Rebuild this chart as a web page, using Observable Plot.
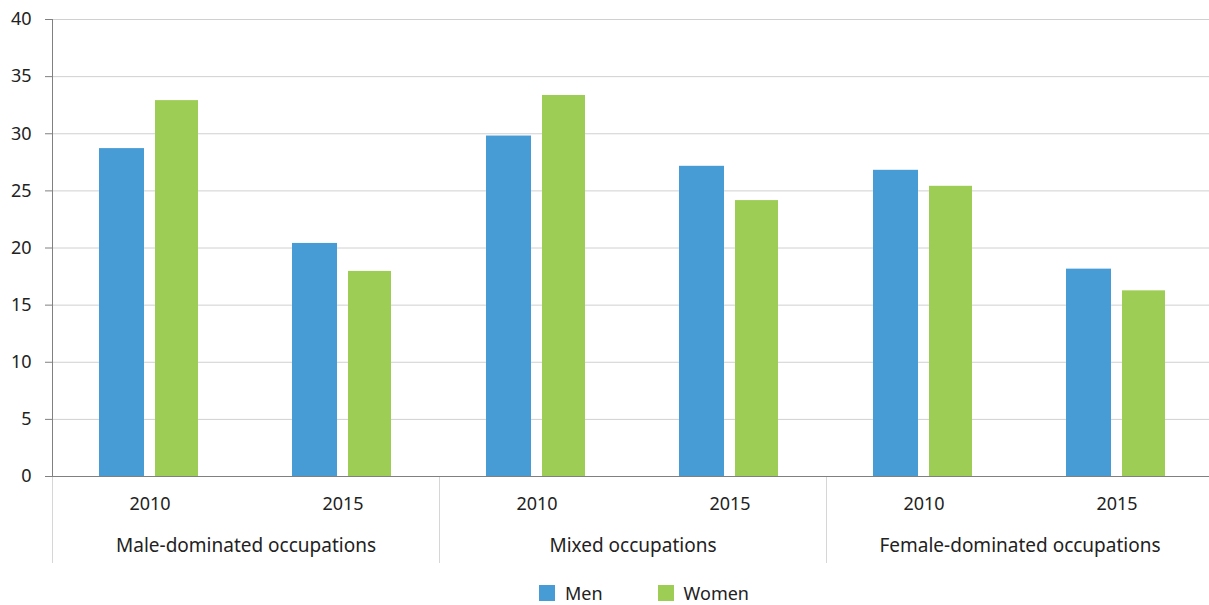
<!DOCTYPE html>
<html><head><meta charset="utf-8">
<script src="https://cdn.jsdelivr.net/npm/d3@7"></script>
<script src="https://cdn.jsdelivr.net/npm/@observablehq/plot@0.6"></script>
<style>
html,body{margin:0;padding:0;background:#fff;overflow:hidden;width:1209px;height:605px;}
#chart{width:1209px;overflow:visible;height:570px;}
#chart svg{display:block;max-width:none !important;}
.legend{display:flex;align-items:center;margin-top:15px;padding-left:539px;font-family:'Noto Sans',sans-serif;font-size:18px;color:#222;line-height:16px;}
.legend .sw{width:16px;height:16px;margin-right:10px;flex:none;}
.legend .lab{margin-right:55px;}
</style></head><body>
<div id="chart"></div>
<script>
const groups = ["Male-dominated occupations", "Mixed occupations", "Female-dominated occupations"];
const years = ["2010", "2015"];
const series = ["Men", "Women"];
// values in order: group × year
const menValues = [28.7, 20.4, 29.8, 27.15, 26.8, 18.15];
const womenValues = [32.9, 17.95, 33.35, 24.15, 25.4, 16.25];
const yTicks = [0, 5, 10, 15, 20, 25, 30, 35, 40];
const colors = ["#489cd6", "#9dcd54"];

const rows = [];
groups.forEach((g, gi) => years.forEach((yr, yi) => {
  rows.push({group: g, year: yr, Men: menValues[gi * 2 + yi], Women: womenValues[gi * 2 + yi]});
}));

const plot = Plot.plot({
  width: 1214,
  height: 570,
  marginLeft: 51,
  marginRight: 1,
  marginTop: 19,
  marginBottom: 94,
  style: {fontFamily: "'Noto Sans', sans-serif", fontSize: "18px", color: "#222", background: "#fff", overflow: "visible", maxWidth: "none"},
  fx: {domain: groups, padding: 0, label: null},
  x: {domain: years, padding: 0, label: null},
  y: {domain: [0, 40], label: null},
  color: {domain: series, range: colors},
  marks: [
    Plot.gridY(yTicks, {stroke: "#d0d0d0", strokeOpacity: 1}),
    Plot.frame({anchor: "left", stroke: "#d6d6d6", insetTop: 457, insetBottom: -86}),
    Plot.barY(rows, {fx: "group", x: "year", y: "Men", fill: () => series[0], insetLeft: 46, insetRight: 102}),
    Plot.barY(rows, {fx: "group", x: "year", y: "Women", fill: () => series[1], insetLeft: 102, insetRight: 48}),
    Plot.ruleY([0], {stroke: "#808080"}),
    Plot.frame({anchor: "left", stroke: "#808080", fx: () => groups[0]}),
    Plot.axisY(yTicks, {tickSize: 7, tickPadding: 14, stroke: "#808080", color: "#222", fontSize: 18, label: null}),
    Plot.axisX({tickSize: 0, tickPadding: 21, fontSize: 18, label: null}),
    Plot.axisFx({anchor: "bottom", tickSize: 0, tickPadding: 62, fontSize: 19, label: null})
  ]
});
document.getElementById("chart").appendChild(plot);

const legend = document.createElement("div");
legend.className = "legend";
series.forEach((s, i) => {
  const sw = document.createElement("span");
  sw.className = "sw";
  sw.style.background = plot.scale("color").apply(s);
  const lab = document.createElement("span");
  lab.className = "lab";
  lab.textContent = s;
  legend.appendChild(sw);
  legend.appendChild(lab);
});
document.body.appendChild(legend);
</script>
</body></html>
